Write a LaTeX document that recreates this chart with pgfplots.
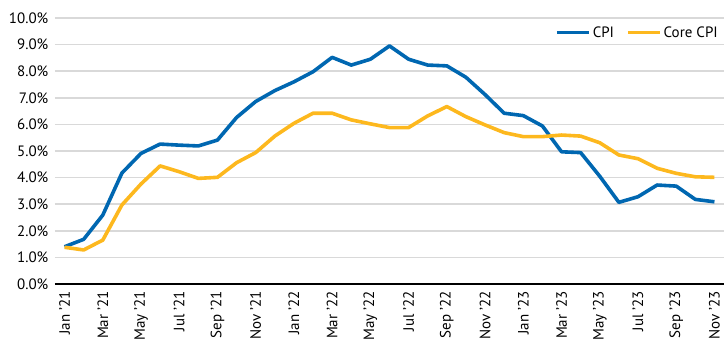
\documentclass[border=0pt]{standalone}
\usepackage{fontspec}
\setmainfont{PT Sans}
\usepackage{pgfplots}
\pgfplotsset{compat=1.18}
\definecolor{cpiblue}{HTML}{0067B1}
\definecolor{coreorange}{HTML}{FDB81E}
\definecolor{gridgray}{HTML}{D9D9D9}

\pgfplotstableread{
m cpi core
0 1.40 1.38
1 1.68 1.28
2 2.59 1.65
3 4.17 2.97
4 4.91 3.76
5 5.26 4.44
6 5.22 4.22
7 5.19 3.97
8 5.41 4.01
9 6.26 4.56
10 6.86 4.94
11 7.27 5.56
12 7.60 6.04
13 7.98 6.42
14 8.52 6.42
15 8.23 6.17
16 8.45 6.02
17 8.95 5.88
18 8.45 5.88
19 8.23 6.32
20 8.20 6.67
21 7.77 6.29
22 7.12 5.98
23 6.42 5.69
24 6.33 5.54
25 5.94 5.54
26 4.97 5.60
27 4.94 5.56
28 4.05 5.31
29 3.07 4.85
30 3.28 4.71
31 3.72 4.35
32 3.68 4.16
33 3.18 4.03
34 3.09 4.01
}\datatable

\begin{document}
\begin{tikzpicture}
\begin{axis}[
  at={(0,0)}, anchor=south west,
  scale only axis, width=669pt, height=266pt,
  xmin=-0.5, xmax=34.5, ymin=0, ymax=10,
  axis y line*=left,
  axis x line*=bottom,
  y axis line style={draw=none},
  x axis line style={black, line width=1.6pt},
  ytick={0,1,...,10},
  yticklabel={\pgfmathprintnumber[fixed,fixed zerofill,precision=1,assume math mode=true]{\tick}\%},
  ymajorgrids,
  grid style={gridgray, line width=1.6pt},
  major tick length=0pt,
  xtick={0,2,...,34},
  xticklabels={Jan '21,Mar '21,May '21,Jul '21,Sep '21,Nov '21,Jan '22,Mar '22,May '22,Jul '22,Sep '22,Nov '22,Jan '23,Mar '23,May '23,Jul '23,Sep '23,Nov '23},
  xticklabel style={rotate=90, anchor=east, inner sep=0pt, font=\fontsize{15}{18}\selectfont},
  yticklabel style={anchor=east, inner sep=0pt, font=\fontsize{15}{18}\selectfont},
  xticklabel shift=7pt,
  yticklabel shift=6.5pt,
  legend style={at={(rel axis cs:0.994,0.945)}, anchor=east, draw=none, fill=none,
    inner sep=0pt, font=\fontsize{15}{18}\selectfont,
    /tikz/every even column/.append style={column sep=10pt}},
  legend columns=2,
  legend image code/.code={\draw[#1] (0pt,0pt) -- (32pt,0pt);},
  every axis plot/.append style={line width=3.6pt, line join=round},
  clip=false,
]
\addplot[cpiblue] table[x=m, y=cpi] {\datatable};
\addlegendentry{CPI}
\addplot[coreorange] table[x=m, y=core] {\datatable};
\addlegendentry{Core CPI}
\end{axis}
\pgfresetboundingbox
\path (-55pt,-68pt) rectangle (672pt,284pt);
\end{tikzpicture}
\end{document}
